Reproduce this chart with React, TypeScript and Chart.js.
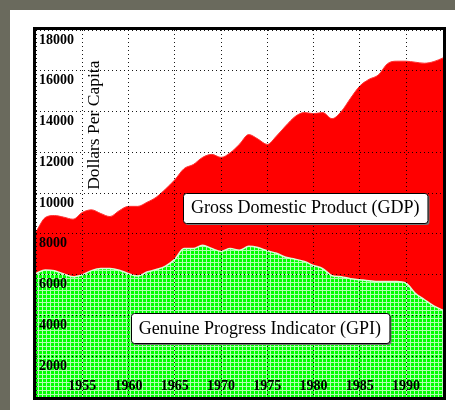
import React, { useEffect, useRef } from 'react';
import { Chart, registerables } from 'chart.js';

Chart.register(...registerables);

const years = [
  1950, 1951, 1952, 1953, 1954, 1955, 1956, 1957, 1958, 1959,
  1960, 1961, 1962, 1963, 1964, 1965, 1966, 1967, 1968, 1969,
  1970, 1971, 1972, 1973, 1974, 1975, 1976, 1977, 1978, 1979,
  1980, 1981, 1982, 1983, 1984, 1985, 1986, 1987, 1988, 1989,
  1990, 1991, 1992, 1993, 1994,
];

const gdpValues = [
  8100, 8800, 8900, 8820, 8720, 9050, 9180, 9000, 8850, 9140,
  9350, 9350, 9550, 9800, 10200, 10650, 11200, 11400, 11750, 11900,
  11750, 11980, 12400, 12870, 12650, 12390, 12800, 13300, 13750, 13950,
  13900, 13950, 13650, 14000, 14650, 15250, 15580, 15790, 16350, 16470,
  16470, 16420, 16370, 16450, 16630,
];

const gpiValues = [
  6060, 6230, 6190, 6030, 5900, 6000, 6200, 6300, 6300, 6220,
  6050, 5930, 6130, 6250, 6420, 6750, 7280, 7280, 7440, 7280,
  7140, 7280, 7200, 7390, 7330, 7170, 7050, 6850, 6760, 6650,
  6450, 6300, 5950, 5900, 5800, 5750, 5700, 5660, 5660, 5660,
  5580, 5090, 4770, 4470, 4250,
];

const xTickLabels = [1955, 1960, 1965, 1970, 1975, 1980, 1985, 1990];
const yTickLabels = [2000, 4000, 6000, 8000, 10000, 12000, 14000, 16000, 18000];

const gdpLabel = 'Gross Domestic Product (GDP)';
const gpiLabel = 'Genuine Progress Indicator (GPI)';
const axisTitle = 'Dollars Per Capita';

// annotation anchors in data coordinates [year, dollars]
const gdpLabelAt = [1979.1, 9290];
const gpiLabelAt = [1974.2, 3390];
const axisTitleAt = [1956.3, 13330];

const SERIF = '"Liberation Serif", "DejaVu Serif", serif';

function makeGreenPattern(): CanvasPattern | string {
  const c = document.createElement('canvas');
  c.width = 4;
  c.height = 4;
  const g = c.getContext('2d');
  if (!g) return '#22ff22';
  g.fillStyle = '#00ff00';
  g.fillRect(0, 0, 4, 4);
  g.fillStyle = '#b0ffb0';
  g.fillRect(0, 0, 4, 1);
  g.fillRect(0, 0, 1, 4);
  return g.createPattern(c, 'repeat') || '#22ff22';
}

function drawBox(ctx: CanvasRenderingContext2D, cx: number, cy: number, text: string) {
  ctx.font = `18px ${SERIF}`;
  const tw = ctx.measureText(text).width;
  const w = tw + 16;
  const h = 30;
  const x0 = Math.round(cx - w / 2) + 0.5;
  const y0 = Math.round(cy - h / 2) + 0.5;
  const r = 3;
  const path = (ox: number, oy: number) => {
    ctx.beginPath();
    ctx.moveTo(x0 + ox + r, y0 + oy);
    ctx.lineTo(x0 + ox + w - r, y0 + oy);
    ctx.arcTo(x0 + ox + w, y0 + oy, x0 + ox + w, y0 + oy + r, r);
    ctx.lineTo(x0 + ox + w, y0 + oy + h - r);
    ctx.arcTo(x0 + ox + w, y0 + oy + h, x0 + ox + w - r, y0 + oy + h, r);
    ctx.lineTo(x0 + ox + r, y0 + oy + h);
    ctx.arcTo(x0 + ox, y0 + oy + h, x0 + ox, y0 + oy + h - r, r);
    ctx.lineTo(x0 + ox, y0 + oy + r);
    ctx.arcTo(x0 + ox, y0 + oy, x0 + ox + r, y0 + oy, r);
    ctx.closePath();
  };
  path(1.5, 1.5);
  ctx.fillStyle = '#777';
  ctx.fill();
  path(0, 0);
  ctx.fillStyle = '#fff';
  ctx.fill();
  ctx.lineWidth = 1;
  ctx.strokeStyle = '#000';
  ctx.stroke();
  ctx.fillStyle = '#000';
  ctx.textAlign = 'center';
  ctx.textBaseline = 'middle';
  ctx.fillText(text, cx, cy + 1);
}

const overlayPlugin = {
  id: 'overlay',
  afterDraw(chart: any) {
    const { ctx, chartArea: a, scales } = chart;
    const xs = scales.x;
    const ys = scales.y;
    ctx.save();
    // axis title
    ctx.save();
    ctx.translate(xs.getPixelForValue(axisTitleAt[0]), ys.getPixelForValue(axisTitleAt[1]));
    ctx.rotate(-Math.PI / 2);
    ctx.font = `17.5px ${SERIF}`;
    ctx.fillStyle = '#000';
    ctx.textAlign = 'center';
    ctx.textBaseline = 'middle';
    ctx.fillText(axisTitle, 0, 0);
    ctx.restore();
    // label boxes
    drawBox(ctx, xs.getPixelForValue(gdpLabelAt[0]), ys.getPixelForValue(gdpLabelAt[1]), gdpLabel);
    drawBox(ctx, xs.getPixelForValue(gpiLabelAt[0]), ys.getPixelForValue(gpiLabelAt[1]), gpiLabel);
    // frame
    ctx.strokeStyle = '#000';
    ctx.lineWidth = 3;
    ctx.strokeRect(a.left - 1.5, a.top - 1.5, a.right - a.left + 3, a.bottom - a.top + 3);
    ctx.restore();
  },
};

export default function App() {
  const canvasRef = useRef<HTMLCanvasElement | null>(null);

  useEffect(() => {
    const canvas = canvasRef.current;
    if (!canvas) return;
    const green = makeGreenPattern();
    const chart = new Chart(canvas, {
      type: 'line',
      data: {
        datasets: [
          {
            label: gpiLabel,
            data: years.map((yr, i) => ({ x: yr, y: gpiValues[i] })),
            fill: 'origin',
            backgroundColor: green as any,
            borderColor: '#d8ffd8',
            borderWidth: 1.5,
            pointRadius: 0,
            cubicInterpolationMode: 'monotone',
          },
          {
            label: gdpLabel,
            data: years.map((yr, i) => ({ x: yr, y: gdpValues[i] })),
            fill: 'origin',
            backgroundColor: '#ff0000',
            borderColor: '#ff3030',
            borderWidth: 1,
            pointRadius: 0,
            cubicInterpolationMode: 'monotone',
          },
        ],
      },
      options: {
        animation: false,
        responsive: false,
        maintainAspectRatio: false,
        devicePixelRatio: 1,
        layout: { padding: { left: 20, right: 12, top: 20, bottom: 9 } },
        plugins: {
          legend: { display: false },
          tooltip: { enabled: false },
        },
        scales: {
          x: {
            type: 'linear',
            min: 1950,
            max: 1994,
            grid: { color: 'rgba(0,0,0,0.9)', lineWidth: 1, drawTicks: false, z: 1 },
            border: { display: false, dash: [1, 3] },
            ticks: {
              z: 2,
              stepSize: 5,
              includeBounds: false,
              autoSkip: false,
              maxRotation: 0,
              mirror: true,
              padding: 2,
              color: '#000',
              font: { family: SERIF, size: 14, weight: 'bold' },
              callback: (v: any) => (xTickLabels.includes(Number(v)) ? String(v) : ''),
            },
          },
          y: {
            type: 'linear',
            min: 0,
            max: 18000,
            grid: { color: 'rgba(0,0,0,0.9)', lineWidth: 1, drawTicks: false, z: 1 },
            border: { display: false, dash: [1, 3] },
            ticks: {
              z: 2,
              stepSize: 2000,
              autoSkip: false,
              mirror: true,
              padding: 3,
              labelOffset: 10,
              color: '#000',
              font: { family: SERIF, size: 14, weight: 'bold' },
              callback: (v: any) => (yTickLabels.includes(Number(v)) ? String(v) : ''),
            },
          },
        },
      },
      plugins: [overlayPlugin],
    } as any);
    return () => chart.destroy();
  }, []);

  return (
    <div
      style={{
        position: 'absolute',
        left: 0,
        top: 0,
        width: 455,
        height: 410,
        background: '#6a6a5d',
        overflow: 'hidden',
      }}
    >
      <canvas
        ref={canvasRef}
        width={445}
        height={400}
        style={{ position: 'absolute', left: 10, top: 10, width: 445, height: 400, background: '#fff' }}
      />
    </div>
  );
}
